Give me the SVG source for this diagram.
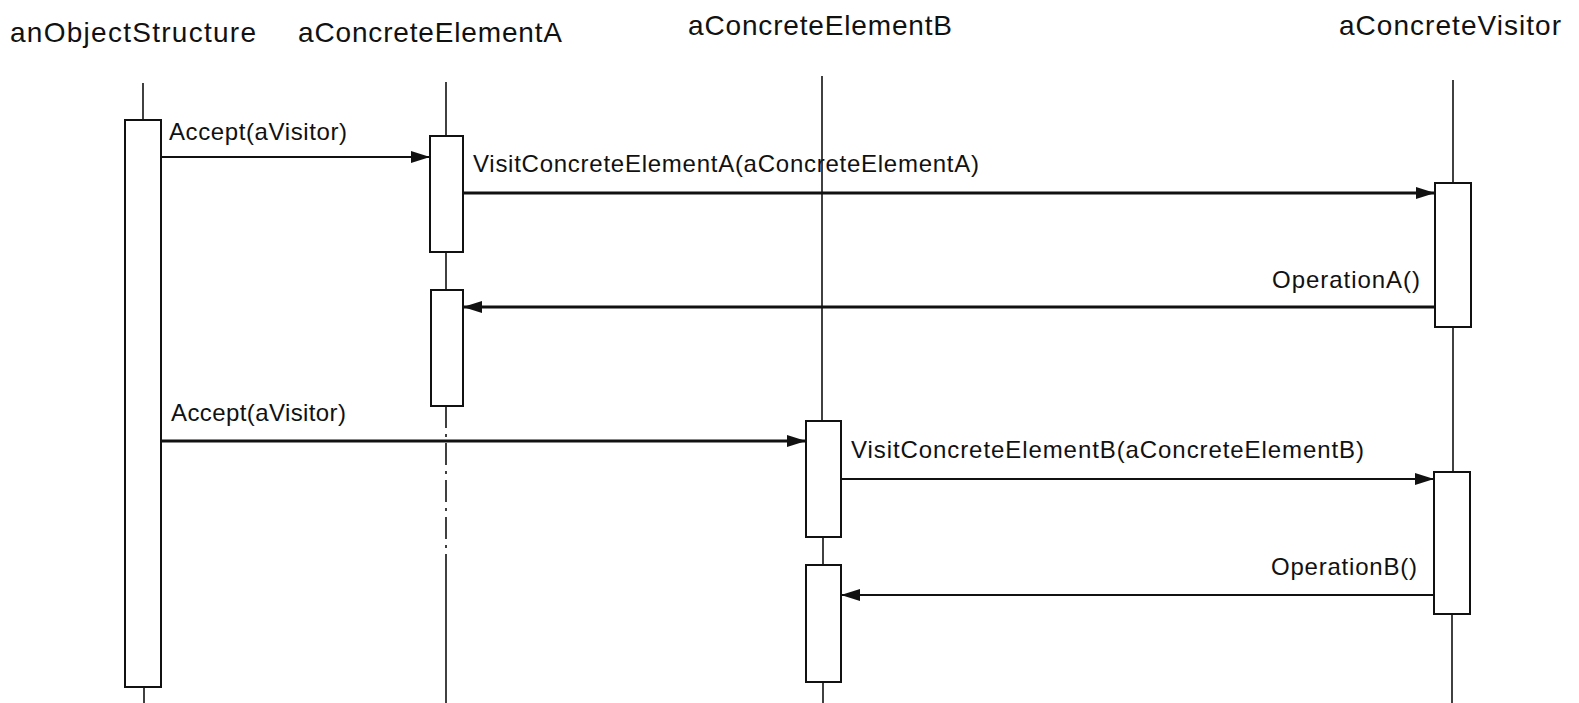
<svg xmlns="http://www.w3.org/2000/svg" width="1579" height="703" viewBox="0 0 1579 703">
<defs>
<style>
.hdr{font-family:"Liberation Sans",Arial,Helvetica,sans-serif;font-size:28px;fill:#111}
.lbl{font-family:"Liberation Sans",Arial,Helvetica,sans-serif;font-size:24px;fill:#111}
.life{stroke:#111;stroke-width:1.6;fill:none}
.dash{stroke:#111;stroke-width:1.6;fill:none;stroke-dasharray:22 6 3 6}
.act{fill:#fff;stroke:#111;stroke-width:2}
.msg{stroke:#111;fill:none;marker-end:url(#ah)}
.thin{stroke-width:2}
.thick{stroke-width:3.2}
</style>
<marker id="ah" markerUnits="userSpaceOnUse" markerWidth="20" markerHeight="14" refX="19" refY="7" orient="auto">
<path d="M0,1 L19,7 L0,13 Z" fill="#111"/>
</marker>
</defs>
<rect width="1579" height="703" fill="#fff"/>

<g id="anObjectStructure">
<text class="hdr" x="10" y="42" textLength="246">anObjectStructure</text>
<line class="life" x1="143" y1="83" x2="143" y2="120"/>
<rect class="act" x="125" y="120" width="36" height="567"/>
<line class="life" x1="144" y1="687" x2="144" y2="703"/>
</g>

<g id="aConcreteElementA">
<text class="hdr" x="298" y="42" textLength="264">aConcreteElementA</text>
<line class="life" x1="446" y1="82" x2="446" y2="136"/>
<rect class="act" x="430" y="136" width="33" height="116"/>
<line class="life" x1="446" y1="252" x2="446" y2="290"/>
<rect class="act" x="431" y="290" width="32" height="116"/>
<line class="dash" x1="446" y1="406" x2="446" y2="570"/>
<line class="life" x1="446" y1="570" x2="446" y2="703"/>
</g>

<g id="aConcreteElementB">
<text class="hdr" x="688" y="35" textLength="264">aConcreteElementB</text>
<line class="life" x1="822" y1="76" x2="822" y2="421"/>
<rect class="act" x="806" y="421" width="35" height="116"/>
<line class="life" x1="823" y1="537" x2="823" y2="565"/>
<rect class="act" x="806" y="565" width="35" height="117"/>
<line class="life" x1="823" y1="682" x2="823" y2="703"/>
</g>

<g id="aConcreteVisitor">
<text class="hdr" x="1339" y="35" textLength="222">aConcreteVisitor</text>
<line class="life" x1="1453" y1="80" x2="1453" y2="183"/>
<rect class="act" x="1435" y="183" width="36" height="144"/>
<line class="life" x1="1453" y1="327" x2="1453" y2="472"/>
<rect class="act" x="1434" y="472" width="36" height="142"/>
<line class="life" x1="1452" y1="614" x2="1452" y2="703"/>
</g>

<g id="connectors">
<line class="msg thin" x1="161" y1="157" x2="430" y2="157"/>
<text class="lbl" x="169" y="140" textLength="178">Accept(aVisitor)</text>

<line class="msg thick" x1="463" y1="193" x2="1435" y2="193"/>
<text class="lbl" x="473" y="172" textLength="506">VisitConcreteElementA(aConcreteElementA)</text>

<line class="msg thick" x1="1435" y1="307" x2="463" y2="307"/>
<text class="lbl" x="1272" y="288" textLength="148">OperationA()</text>

<line class="msg thick" x1="161" y1="441" x2="806" y2="441"/>
<text class="lbl" x="171" y="421" textLength="175">Accept(aVisitor)</text>

<line class="msg thin" x1="841" y1="479" x2="1434" y2="479"/>
<text class="lbl" x="851" y="458" textLength="513">VisitConcreteElementB(aConcreteElementB)</text>

<line class="msg thin" x1="1434" y1="595" x2="841" y2="595"/>
<text class="lbl" x="1271" y="575" textLength="146">OperationB()</text>
</g>
</svg>
